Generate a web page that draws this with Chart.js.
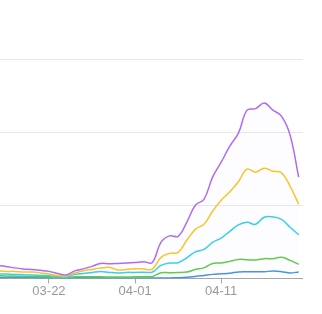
<!DOCTYPE html>
<html>
<head>
<meta charset="utf-8">
<script src="https://cdn.jsdelivr.net/npm/chart.js@4/dist/chart.umd.min.js"></script>
<style>
  html, body { margin: 0; padding: 0; background: #fff; overflow: hidden; }
  #wrap { position: absolute; left: -7px; top: 0; width: 310px; height: 314px; }
</style>
</head>
<body>
<div id="wrap"><canvas id="grafico"></canvas></div>
<script>
const dias = ['03-16','03-17','03-18','03-19','03-20','03-21','03-22','03-23','03-24','03-25',
  '03-26','03-27','03-28','03-29','03-30','03-31','04-01','04-02','04-03','04-04',
  '04-05','04-06','04-07','04-08','04-09','04-10','04-11','04-12','04-13','04-14',
  '04-15','04-16','04-17','04-18','04-19','04-20'];
const rotulosEixo = ['03-22', '04-01', '04-11'];

const serieRoxa = [17.8, 16.4, 14.4, 13.0, 12.3, 11.0, 9.6, 6.8, 4.8, 10.3, 13.0, 16.4, 20.5, 19.9, 20.5, 21.2, 21.9, 22.6,
  21.9, 49.3, 58.2, 57.5, 76.7, 100, 108.2, 138.4, 158.9, 180.8, 198.6, 230.1, 232.2, 239.7, 230.1, 221.9, 195.9, 138.4];
const serieAmarela = [10.3, 9.6, 9.6, 8.9, 8.6, 7.5, 5.9, 4.1, 3.4, 7.5, 10.3, 12.3, 14.1, 15.1, 11.6, 12.3, 13.3, 13.0,
  12.7, 28.8, 34.2, 35.6, 52.1, 67.1, 74.0, 91.8, 106.9, 118.5, 132.2, 149.3, 145.2, 150.7, 146.6, 144.5, 126.0, 101.4];
const serieCiano = [6.2, 5.9, 5.5, 5.1, 4.5, 4.1, 3.7, 2.7, 1.8, 5.5, 6.8, 8.2, 9.6, 8.2, 7.5, 8.2, 8.2, 8.5,
  8.6, 17.8, 21.0, 21.5, 28.1, 36.3, 39.7, 49.3, 55.2, 64.4, 73.3, 76.7, 74.0, 83.6, 84.0, 80.8, 69.9, 59.6];
const serieVerde = [3.7, 3.4, 3.2, 2.7, 2.7, 2.3, 2.1, 1.4, 1.0, 2.1, 2.1, 2.1, 2.1, 1.8, 1.8, 1.8, 2.1, 2.3,
  2.7, 7.8, 7.8, 7.9, 8.6, 12.3, 14.4, 20.5, 21.2, 23.3, 26.0, 25.6, 25.1, 27.0, 27.0, 28.8, 24.7, 19.2];
const serieAzul = [1.4, 1.4, 1.4, 1.1, 1.1, 1.0, 1.0, 0.7, 0.7, 0.8, 0.8, 0.8, 0.8, 0.7, 0.7, 0.7, 0.7, 0.5,
  0.5, 0.4, 0.7, 1.0, 1.6, 2.7, 4.1, 5.5, 6.2, 7.1, 8.9, 9.2, 9.2, 9.2, 10.0, 9.2, 7.5, 8.9];

function linha(dados, cor, fundo) {
  return {
    data: dados,
    borderColor: cor,
    backgroundColor: fundo,
    borderWidth: 1.5,
    fill: 'origin',
    tension: 0.4,
    pointRadius: 0,
    pointHoverRadius: 0
  };
}

const ctx = document.getElementById('grafico');

new Chart(ctx, {
  type: 'line',
  data: {
    labels: dias,
    datasets: [
      linha(serieRoxa, '#ad6cf2', 'rgba(173,108,242,0.025)'),
      linha(serieAmarela, '#fcc624', 'rgba(252,198,36,0.0)'),
      linha(serieCiano, '#33d3e6', 'rgba(51,211,230,0.0)'),
      linha(serieVerde, '#62cc48', 'rgba(98,204,72,0.0)'),
      linha(serieAzul, '#4596e2', 'rgba(69,150,226,0.0)')
    ]
  },
  options: {
    responsive: true,
    maintainAspectRatio: false,
    animation: false,
    layout: { padding: { top: 59, bottom: 15, left: 0, right: 0 } },
    plugins: {
      legend: { display: false },
      tooltip: { enabled: false }
    },
    scales: {
      x: {
        offset: true,
        border: { display: true, color: '#a6a6a6', width: 1 },
        grid: {
          drawOnChartArea: false,
          drawTicks: true,
          tickLength: 5,
          color: (c) => rotulosEixo.includes(dias[c.index]) ? '#a6a6a6' : 'rgba(0,0,0,0)'
        },
        ticks: {
          autoSkip: false,
          maxRotation: 0,
          padding: 0,
          color: '#999',
          font: { family: 'Arial, "Liberation Sans", sans-serif', size: 13 },
          callback: function (v, i) {
            return rotulosEixo.includes(dias[i]) ? dias[i] : '';
          }
        }
      },
      y: {
        min: 0,
        max: 300,
        border: { display: false },
        grid: {
          drawTicks: false,
          color: (c) => c.tick && c.tick.value === 0 ? 'rgba(0,0,0,0)' : '#e8e8e8'
        },
        ticks: { display: false, stepSize: 100 }
      }
    }
  }
});
</script>
</body>
</html>
